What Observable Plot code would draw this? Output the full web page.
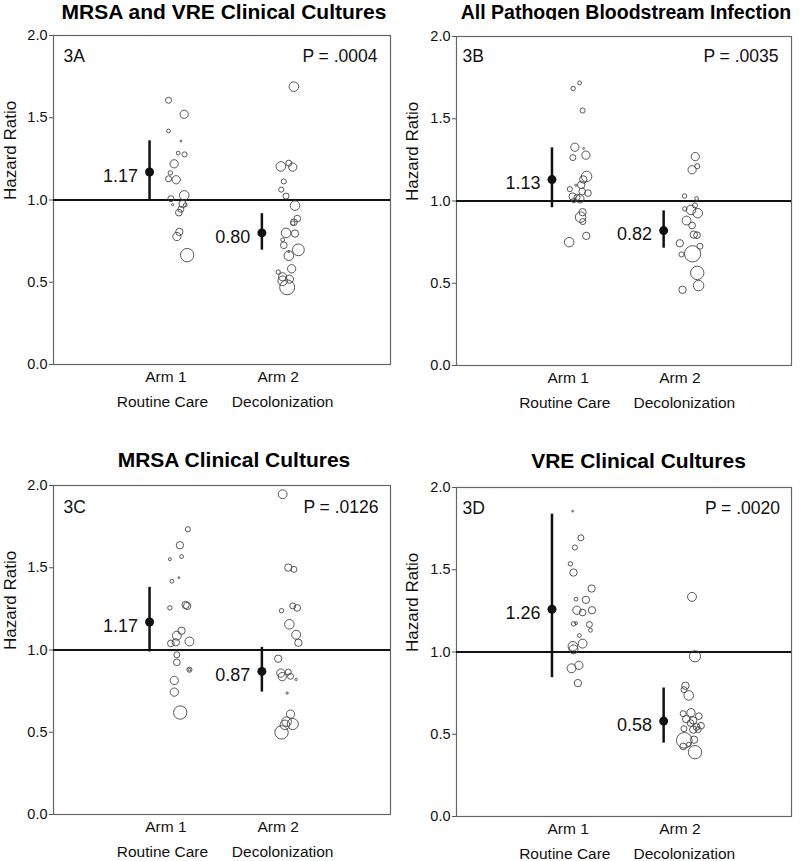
<!DOCTYPE html>
<html><head><meta charset="utf-8">
<script src="https://cdn.jsdelivr.net/npm/d3@7"></script>
<script src="https://cdn.jsdelivr.net/npm/@observablehq/plot@0.6"></script>
<style>
body{margin:0;background:#fff;font-family:"Liberation Sans",Arial,sans-serif;}
#root{position:relative;width:800px;height:861px;overflow:hidden;background:#fff;}
.title{position:absolute;font-weight:bold;font-size:21px;line-height:24px;white-space:nowrap;transform:translateX(-50%);color:#000;}
.panel{position:absolute;}
</style></head><body><div id="root"></div>
<script>
// ---------- data ----------
const titles = ["MRSA and VRE Clinical Cultures", "All Pathogen Bloodstream Infection", "MRSA Clinical Cultures", "VRE Clinical Cultures"];
const panelLabels = ["3A", "3B", "3C", "3D"];
const pValues = ["P = .0004", "P = .0035", "P = .0126", "P = .0020"];
const armNames = ["Arm 1", "Arm 2"];
const armDescriptions = ["Routine Care", "Decolonization"];
const yTicks = [0, 0.5, 1.0, 1.5, 2.0];

// point estimates [arm, HR, lower, upper]
const estA = [[1, 1.17, 1.00, 1.36], [2, 0.80, 0.695, 0.917]];
const estB = [[1, 1.13, 0.959, 1.323], [2, 0.82, 0.713, 0.94]];
const estC = [[1, 1.17, 0.988, 1.381], [2, 0.87, 0.744, 1.016]];
const estD = [[1, 1.26, 0.844, 1.838], [2, 0.58, 0.446, 0.781]];

// hospital-level hazard ratios [jittered arm position, HR, weight]
const hospA1 = [[1.024,1.606,2.7],[1.163,1.521,3.7],[1.024,1.42,1.7],[1.134,1.358,0.8],[1.11,1.285,1.7],[1.167,1.277,2.3],[1.074,1.22,3.7],[1.04,1.165,2],[1.024,1.129,2.7],[1.092,1.123,3.7],[1.164,1.028,4.3],[1.045,1.008,2.7],[1.06,0.972,1],[1.149,0.976,3.3],[1.173,0.97,1.7],[1.134,0.944,2.7],[1.116,0.923,3],[1.12,0.806,3.3],[1.098,0.778,3.7],[1.19,0.665,6]];
const hospA2 = [[2.14,1.689,4.3],[2.024,1.204,4.3],[2.095,1.224,2.7],[2.13,1.2,3.7],[2.05,1.113,2.3],[2.027,1.063,2.3],[2.07,1.024,2.7],[2.15,0.966,4.3],[2.17,0.887,3],[2.14,0.865,3],[2.13,0.859,2],[2.07,0.8,4.3],[2.15,0.796,3.3],[2.04,0.758,1.7],[2.05,0.725,3],[2.18,0.697,5.3],[2.095,0.687,1],[2.095,0.661,4.3],[2.12,0.582,3.7],[2.0,0.562,2],[2.04,0.533,3.7],[2.1,0.519,3.7],[2.04,0.509,4.3],[2.08,0.469,6.7]];
const hospB1 = [[1.102,1.718,1.7],[1.045,1.684,2],[1.129,1.55,2.3],[1.06,1.327,3.7],[1.138,1.319,0.8],[1.042,1.264,2.7],[1.159,1.279,3.7],[1.165,1.149,4.7],[1.135,1.131,3.3],[1.117,1.098,3.3],[1.015,1.072,2.3],[1.07,1.096,1],[1.126,1.058,3],[1.177,1.048,3],[1.04,1.027,3.3],[1.08,1.023,2.7],[1.105,1.013,3.7],[1.05,1.003,2],[1.129,0.932,3.3],[1.111,0.902,4.7],[1.131,0.875,2.7],[1.162,0.788,3.3],[1.009,0.75,4.3]];
const hospB2 = [[2.138,1.27,3.7],[2.156,1.212,2.3],[2.11,1.19,3.7],[2.042,1.03,2],[2.15,1.015,1.7],[2.045,0.952,2],[2.135,0.973,2.3],[2.1,0.946,4.3],[2.16,0.926,4.3],[2.06,0.881,4],[2.11,0.851,3],[2.125,0.796,3.3],[2.154,0.792,3],[2.0,0.743,3.3],[2.18,0.725,2.7],[2.015,0.675,2.3],[2.114,0.679,7.3],[2.156,0.563,6],[2.168,0.486,4.7],[2.024,0.46,3.3]];
const hospC1 = [[1.196,1.734,2.3],[1.125,1.637,3.3],[1.14,1.568,1.7],[1.036,1.552,1.3],[1.116,1.44,0.8],[1.054,1.418,1.7],[1.036,1.256,2],[1.176,1.274,3.3],[1.19,1.268,3.3],[1.14,1.117,3.3],[1.098,1.087,4],[1.21,1.052,4],[1.045,1.04,3],[1.089,1.047,3.3],[1.098,0.971,2.7],[1.098,0.925,3],[1.21,0.88,2.3],[1.21,0.88,1.2],[1.075,0.815,3.7],[1.075,0.744,3.7],[1.128,0.62,6]];
const hospC2 = [[2.04,1.947,4],[2.09,1.501,3.3],[2.14,1.49,2.7],[2.03,1.239,2],[2.13,1.268,2.7],[2.17,1.256,3],[2.1,1.156,4.3],[2.16,1.093,4],[2.18,1.044,3.3],[2.0,0.947,3.3],[2.024,0.86,3.7],[2.09,0.866,2.7],[2.036,0.838,3.7],[2.11,0.84,2.7],[2.16,0.821,1],[2.08,0.738,1],[2.11,0.61,3.7],[2.075,0.565,4.3],[2.13,0.55,5],[2.06,0.545,4.3],[2.03,0.499,6]];
const hospD1 = [[1.04,1.856,0.8],[1.114,1.694,2.7],[1.06,1.635,2.3],[1.02,1.536,2],[1.048,1.483,3.3],[1.21,1.386,3.3],[1.159,1.317,3.3],[1.07,1.321,1.7],[1.078,1.254,3.7],[1.129,1.24,3],[1.213,1.254,3.3],[1.048,1.171,2],[1.07,1.175,1.3],[1.19,1.167,2.7],[1.2,1.132,1.7],[1.1,1.1,1.7],[1.129,1.051,4],[1.042,1.035,4.3],[1.048,1.016,4],[1.096,0.919,3.7],[1.03,0.901,4],[1.087,0.811,3.3]];
const hospD2 = [[2.109,1.335,4],[2.136,0.974,5],[2.05,0.795,3.3],[2.037,0.771,2.7],[2.08,0.736,4.3],[2.1,0.631,3.7],[2.03,0.625,2.7],[2.17,0.61,3],[2.057,0.592,3.3],[2.12,0.584,3.3],[2.096,0.568,3],[2.19,0.552,3],[2.15,0.544,3],[2.12,0.528,3.3],[2.037,0.534,2.7],[2.165,0.528,2.7],[2.127,0.467,3.3],[2.04,0.463,7],[2.03,0.426,3],[2.136,0.391,6],[2.08,0.438,2]];

// ---------- layout ----------
const panels = [
  {est: estA, hosp: [...hospA1, ...hospA2], left: 0, top: 20, width: 400, height: 420, m: [15, 10, 76, 53], title: {x: 224, top: 0, size: 21}, lab: [10, 14], pdx: -13, ylab: -43},
  {est: estB, hosp: [...hospB1, ...hospB2], left: 400, top: 20, width: 400, height: 420, m: [16, 9, 75, 56], title: {x: 626, top: 0, size: 19.5}, lab: [6, 13], pdx: -13, ylab: -43.5},
  {est: estC, hosp: [...hospC1, ...hospC2], left: 0, top: 470, width: 400, height: 391, m: [15, 10, 47, 53], title: {x: 234, top: 448, size: 21}, lab: [10, 15], pdx: -12, ylab: -43},
  {est: estD, hosp: [...hospD1, ...hospD2], left: 400, top: 470, width: 400, height: 391, m: [17, 9, 45, 56], title: {x: 638.5, top: 449, size: 21}, lab: [6, 14], pdx: -11.5, ylab: -43.5}
];

const root = document.getElementById("root");
const fmt1 = d3.format(".1f"), fmt2 = d3.format(".2f");
const estOffset = -0.145;

panels.forEach((p, i) => {
  const t = document.createElement("div");
  t.className = "title";
  t.textContent = titles[i];
  t.style.left = p.title.x + "px";
  t.style.top = p.title.top + "px";
  t.style.fontSize = p.title.size + "px";
  root.appendChild(t);

  const est = p.est.map(([arm, hr, lo, hi]) => ({arm, hr, lo, hi}));
  const hosp = p.hosp.map(([x, hr, w]) => ({x, hr, w}));
  const arms = armNames.map((name, k) => ({arm: k + 1, name, desc: armDescriptions[k]}));

  const chart = Plot.plot({
    width: p.width,
    height: p.height,
    marginTop: p.m[0], marginRight: p.m[1], marginBottom: p.m[2], marginLeft: p.m[3],
    style: {fontFamily: "'Liberation Sans', Arial, sans-serif", fontSize: "14px", color: "#111", background: "white", overflow: "visible"},
    x: {domain: [0, 3], axis: null},
    y: {domain: [0, 2], axis: null},
    r: {type: "linear", domain: [0, 7], range: [0, 7.8]},
    marks: [
      Plot.axisY({ticks: yTicks, tickFormat: fmt1, tickSize: 4, tickPadding: 2, label: null, fontSize: 14.5, stroke: "#555"}),
      Plot.text(["Hazard Ratio"], {frameAnchor: "left", dx: p.ylab, rotate: -90, text: d => d, fontSize: 17, lineAnchor: "middle"}),
      Plot.frame({stroke: "#666", strokeWidth: 1.2}),
      Plot.ruleY([1], {stroke: "#111", strokeWidth: 2}),
      Plot.dot(hosp, {x: "x", y: "hr", r: "w", stroke: "#444", strokeWidth: 0.9, fill: "none"}),
      Plot.ruleX(est, {x: d => d.arm + estOffset, y1: "lo", y2: "hi", stroke: "#111", strokeWidth: 2.5}),
      Plot.dot(est, {x: d => d.arm + estOffset, y: "hr", r: 4.5, fill: "#111", stroke: "none"}),
      Plot.text(est, {x: d => d.arm + estOffset, y: "hr", text: d => fmt2(d.hr), textAnchor: "end", dx: -11.5, dy: 4, fontSize: 18}),
      Plot.text([panelLabels[i]], {frameAnchor: "top-left", text: d => d, dx: p.lab[0], dy: p.lab[1], textAnchor: "start", lineAnchor: "top", fontSize: 17.5}),
      Plot.text([pValues[i]], {frameAnchor: "top-right", text: d => d, dx: p.pdx, dy: p.lab[1], textAnchor: "end", lineAnchor: "top", fontSize: 17.5}),
      Plot.text(arms, {x: "arm", frameAnchor: "bottom", text: "name", dy: 13, lineAnchor: "middle", fontSize: 15.5}),
      Plot.text(arms, {x: d => d.arm + (d.arm === 1 ? -0.03 : 0.04), frameAnchor: "bottom", text: "desc", dy: 38, lineAnchor: "middle", fontSize: 15.5})
    ]
  });
  chart.classList.add("panel");
  chart.style.left = p.left + "px";
  chart.style.top = p.top + "px";
  root.appendChild(chart);
});
</script></body></html>
